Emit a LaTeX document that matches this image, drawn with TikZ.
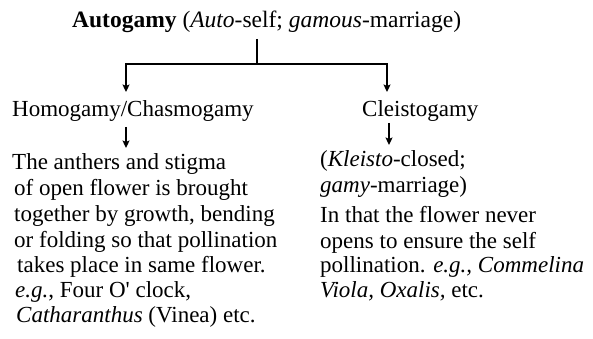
\documentclass[tikz,border=0pt]{standalone}
\usepackage{fontspec}
\setmainfont{Liberation Serif}
\usetikzlibrary{arrows.meta}
\tikzset{
  txt/.style={anchor=base west, inner sep=0pt, font=\fontsize{23}{25.5}\selectfont},
  ttl/.style={anchor=base west, inner sep=0pt, font=\fontsize{23.5}{26}\selectfont},
  conn/.style={line width=1.4pt, black},
  arr/.style={conn, -{Stealth[length=7.5pt,width=7pt,inset=1.5pt]}}
}
\begin{document}
\begin{tikzpicture}[x=1pt,y=1pt]
\useasboundingbox (0,0) rectangle (593,-339);
% title and second level
\node[ttl] (title) at (72,-28) {\textbf{Autogamy} (\textit{Auto}-self; \textit{gamous}-marriage)};
\node[txt] (homo) at (12,-117) {Homogamy/Chasmogamy};
\node[txt] (cleis) at (362,-117) {Cleistogamy};
% left description
\node[txt] (l1) at (12,-169) {The anthers and stigma};
\node[txt] (l2) at (14,-195) {of open flower is brought};
\node[txt] (l3) at (14,-221) {together by growth, bending};
\node[txt] (l4) at (14,-247) {or folding so that pollination};
\node[txt] (l5) at (17,-272) {takes place in same flower.};
\node[txt] (l6) at (15,-297) {\textit{e.g.}, Four O\textquotesingle{} clock,};
\node[txt] (l7) at (16,-322) {\textit{Catharanthus} (Vinea) etc.};
% right description
\node[txt] (r1) at (320,-166) {(\textit{Kleisto}-closed;};
\node[txt] (r2) at (320,-192) {\textit{gamy}-marriage)};
\node[txt] (r3) at (320,-222) {In that the flower never};
\node[txt] (r4) at (320,-248) {opens to ensure the self};
\node[txt] (r5) at (320,-272) {pollination. \textit{e.g., Commelina}};
\node[txt] (r6) at (320,-297) {\textit{Viola, Oxalis,} etc.};
% connector coordinates
\coordinate (stemtop) at (257,-39);
\coordinate (junc) at (257,-64);
\coordinate (homoin) at (126,-92);
\coordinate (cleisin) at (387,-92);
\coordinate (homoout) at (126,-127);
\coordinate (l1in) at (126,-148);
\coordinate (cleisout) at (389,-123);
\coordinate (r1in) at (389,-145);
% connectors
\draw[conn] (stemtop) -- (junc);
\draw[arr] (junc) -| (homoin);
\draw[arr] (junc) -| (cleisin);
\draw[arr] (homoout) -- (l1in);
\draw[arr] (cleisout) -- (r1in);
\end{tikzpicture}
\end{document}
